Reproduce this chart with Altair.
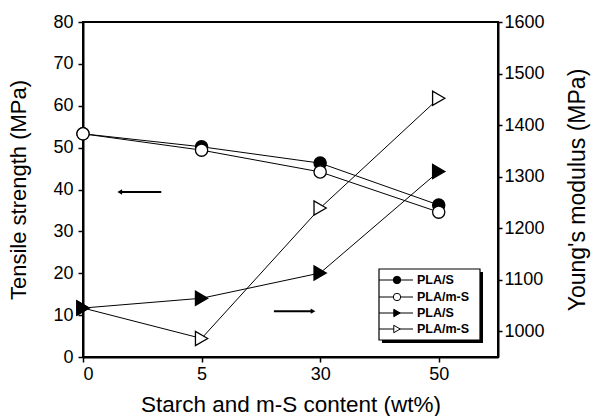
import altair as alt
import pandas as pd

# ---- data ----
x_labels = ["0", "5", "30", "50"]
x_pos = [0, 1, 2, 3]
tensile_pla_s = [53.3, 50.2, 46.3, 36.3]
tensile_pla_ms = [53.3, 49.4, 44.2, 34.6]
modulus_pla_s = [1045, 1064, 1113, 1310]
modulus_pla_ms = [1045, 986, 1239, 1452]
legend_labels = ["PLA/S", "PLA/m-S", "PLA/S", "PLA/m-S"]
left_arrow_x = [0.31, 0.66]
left_arrow_y = [39.4, 39.4]
right_arrow_x = [1.61, 1.94]
right_arrow_y = [1039, 1039]

FONT = "Liberation Sans"

ts = pd.DataFrame({
    "idx": x_pos + x_pos,
    "value": tensile_pla_s + tensile_pla_ms,
    "series": ["PLA/S"] * 4 + ["PLA/m-S"] * 4,
})
ym = pd.DataFrame({
    "idx": x_pos + x_pos,
    "value": modulus_pla_ms + modulus_pla_s,
    "series": ["PLA/m-S"] * 4 + ["PLA/S"] * 4,
})
la = pd.DataFrame({"idx": left_arrow_x, "value": left_arrow_y})
ra = pd.DataFrame({"idx": right_arrow_x, "value": right_arrow_y})

label_expr = "[" + ",".join("'%s'" % s for s in x_labels) + "][datum.value]"
X = alt.X("idx:Q",
          scale=alt.Scale(domain=[0, 3.5], nice=False, zero=False),
          axis=alt.Axis(values=x_pos, labelExpr=label_expr,
                        title="Starch and m-S content (wt%)",
                        labelPadding=3, titlePadding=10, titleFontSize=22.5))
YL = alt.Y("value:Q",
           scale=alt.Scale(domain=[0, 80], nice=False),
           axis=alt.Axis(values=list(range(0, 81, 10)), orient="left",
                         title="Tensile strength (MPa)", titlePadding=22,
                         labelPadding=5, titleFontSize=22))
YR = alt.Y("value:Q",
           scale=alt.Scale(domain=[950, 1600], nice=False, zero=False),
           axis=alt.Axis(values=list(range(1000, 1601, 100)), orient="right",
                         format="d",
                         title="Young's modulus (MPa)", titleAngle=270,
                         titlePadding=45, labelPadding=2, tickSize=4,
                         titleFontSize=23))

fill_scale = alt.Scale(domain=["PLA/S", "PLA/m-S"], range=["black", "white"])

left_lines = alt.Chart(ts).mark_line(color="black", strokeWidth=1).encode(
    x=X, y=YL, detail="series:N")
left_points = alt.Chart(ts).mark_point(
    shape="circle", filled=True, size=150, stroke="black", strokeWidth=1.3,
    opacity=1).encode(
    x=X, y=YL, fill=alt.Fill("series:N", scale=fill_scale, legend=None))
left_arrow = alt.Chart(la).mark_line(color="black", strokeWidth=2).encode(x=X, y=YL)
left_head = alt.Chart(la.iloc[[0]]).mark_point(
    shape="triangle-left", filled=True, color="black", size=30, opacity=1).encode(x=X, y=YL)
left = alt.layer(left_lines, left_points, left_arrow, left_head)

right_lines = alt.Chart(ym).mark_line(color="black", strokeWidth=1).encode(
    x=X, y=YR, detail="series:N")
right_points = alt.Chart(ym).mark_point(
    shape="triangle-right", filled=True, size=200, stroke="black", strokeWidth=1.3,
    opacity=1).encode(
    x=X, y=YR, fill=alt.Fill("series:N", scale=fill_scale, legend=None))
right_arrow = alt.Chart(ra).mark_line(color="black", strokeWidth=2).encode(x=X, y=YR)
right_head = alt.Chart(ra.iloc[[1]]).mark_point(
    shape="triangle-right", filled=True, color="black", size=30, opacity=1).encode(x=X, y=YR)
right = alt.layer(right_lines, right_points, right_arrow, right_head)

# ---- hand-drawn legend box (as in the original figure) ----
one = pd.DataFrame({"k": [0]})
box_x0, box_x1, box_y0, box_y1 = 296, 397, 247, 318
shadow = alt.Chart(one).mark_rect(fill="black").encode(
    x=alt.value(box_x0 + 3), x2=alt.value(box_x1 + 3),
    y=alt.value(box_y0 + 3), y2=alt.value(box_y1 + 3))
box = alt.Chart(one).mark_rect(fill="white", stroke="black", strokeWidth=1.2).encode(
    x=alt.value(box_x0), x2=alt.value(box_x1),
    y=alt.value(box_y0), y2=alt.value(box_y1))
legend_layers = [shadow, box]
row_ys = [258, 275, 291, 307]
shapes = ["circle", "circle", "triangle-right", "triangle-right"]
fills = ["black", "white", "black", "white"]
for ry, lab, shp, fl in zip(row_ys, legend_labels, shapes, fills):
    legend_layers.append(alt.Chart(one).mark_rule(color="black", strokeWidth=1).encode(
        x=alt.value(box_x0), x2=alt.value(box_x0 + 34), y=alt.value(ry)))
    legend_layers.append(alt.Chart(one).mark_point(
        shape=shp, filled=True, fill=fl, stroke="black", strokeWidth=1,
        size=55, opacity=1).encode(x=alt.value(box_x0 + 18), y=alt.value(ry)))
    legend_layers.append(alt.Chart(one).mark_text(
        align="left", baseline="middle", font=FONT, fontSize=12.5,
        fontWeight="bold", color="black").encode(
        x=alt.value(box_x0 + 38), y=alt.value(ry), text=alt.value(lab)))

chart = alt.layer(left, right, *legend_layers).resolve_scale(
    y="independent"
).properties(
    width=415, height=335,
    autosize=alt.AutoSizeParams(type="none"),
    padding={"left": 83, "top": 22, "right": 95, "bottom": 59},
    background="white",
).configure_view(
    stroke="black", strokeWidth=2
).configure_axis(
    grid=False, domainColor="black", domainWidth=2, tickColor="black",
    tickWidth=1.5, tickSize=5, labelFont=FONT, labelFontSize=18,
    labelColor="black", titleFont=FONT, titleFontSize=22,
    titleFontWeight="normal", titleColor="black",
)

chart.save("out.html", embed_options={"renderer": "svg", "actions": False})
